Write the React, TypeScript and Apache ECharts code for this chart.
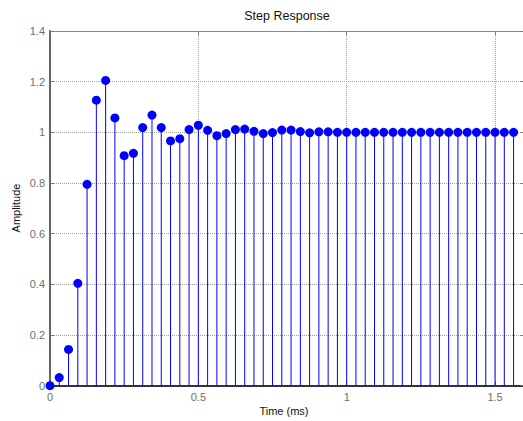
import React, { useEffect, useRef } from "react";
import * as echarts from "echarts";

// Sample period of the discrete step response (ms)
const samplePeriod = 0.03125;
// Amplitude at each sample n = 0..50
const amplitudes = [
  0, 0.032, 0.143, 0.404, 0.795, 1.127, 1.205, 1.057, 0.908, 0.917,
  1.019, 1.068, 1.019, 0.966, 0.975, 1.011, 1.028, 1.008, 0.987, 0.995,
  1.011, 1.013, 1.004, 0.995, 0.999, 1.009, 1.009, 1.003, 0.998, 1.002,
  1.002, 1.0, 1.0, 1.0, 1.0, 1.0, 1.0, 1.0, 1.0, 1.0,
  1.0, 1.0, 1.0, 1.0, 1.0, 1.0, 1.0, 1.0, 1.0, 1.0,
  1.0,
];
const xTicks = [0, 0.5, 1, 1.5];
const yTicks = [0, 0.2, 0.4, 0.6, 0.8, 1, 1.2, 1.4];
const titleText = "Step Response";
const xLabel = "Time (ms)";
const yLabel = "Amplitude";

export default function App() {
  const ref = useRef<HTMLDivElement>(null);
  useEffect(() => {
    if (!ref.current) return;
    const chart = echarts.init(ref.current, null, { renderer: "svg" });
    const points = amplitudes.map((a, i) => [i * samplePeriod, a]);
    const font = "Liberation Sans, Arial, sans-serif";
    const gridLine = { show: true, lineStyle: { color: "#a0a0a0", type: "dotted" as const, width: 1 } };
    chart.setOption({
      animation: false,
      backgroundColor: "#ffffff",
      grid: {
        left: 50,
        top: 31,
        width: 474.7,
        height: 354.7,
        containLabel: false,
        outerBoundsMode: "none",
      },
      xAxis: [
        {
          type: "value",
          min: 0,
          max: 1.6,
          interval: 0.5,
          position: "bottom",
          axisLine: { show: true, onZero: false, lineStyle: { color: "#333333", width: 2 } },
          axisTick: { show: true, inside: true, length: 4, lineStyle: { color: "#666" } },
          axisLabel: {
            color: "#6e6e6e",
            fontSize: 11,
            fontFamily: font,
            margin: 6,
            formatter: (v: number) => (xTicks.includes(v) ? String(v) : ""),
          },
          splitLine: gridLine,
        },
        {
          type: "value",
          min: 0,
          max: 1.6,
          interval: 0.5,
          position: "top",
          axisLine: { show: true, onZero: false, lineStyle: { color: "#8a8a8a", width: 1 } },
          axisTick: { show: true, inside: true, length: 4, lineStyle: { color: "#777" } },
          axisLabel: { show: false },
          splitLine: { show: false },
        },
      ],
      yAxis: [
        {
          type: "value",
          min: 0,
          max: 1.4,
          interval: 0.2,
          axisLine: { show: true, onZero: false, lineStyle: { color: "#666666", width: 2 } },
          axisTick: { show: true, inside: true, length: 4, lineStyle: { color: "#777" } },
          axisLabel: {
            color: "#6e6e6e",
            fontSize: 11,
            fontFamily: font,
            margin: 5,
            formatter: (v: number) => {
              const t = yTicks.find((y) => Math.abs(y - v) < 1e-6);
              return t === undefined ? "" : String(t);
            },
          },
          splitLine: gridLine,
        },
        {
          type: "value",
          min: 0,
          max: 1.4,
          interval: 0.2,
          position: "right",
          axisLine: { show: true, onZero: false, lineStyle: { color: "#8a8a8a", width: 1 } },
          axisTick: { show: true, inside: true, length: 4, lineStyle: { color: "#777" } },
          axisLabel: { show: false },
          splitLine: { show: false },
        },
      ],
      graphic: [
        {
          type: "text",
          x: 287,
          y: 16,
          style: { text: titleText, fill: "#111", font: `12.5px ${font}`, textAlign: "center", textVerticalAlign: "middle" },
        },
        {
          type: "text",
          x: 284,
          y: 411,
          style: { text: xLabel, fill: "#111", font: `11px ${font}`, textAlign: "center", textVerticalAlign: "middle" },
        },
        {
          type: "text",
          x: 16,
          y: 208,
          rotation: Math.PI / 2,
          style: { text: yLabel, fill: "#111", font: `11px ${font}`, textAlign: "center", textVerticalAlign: "middle" },
        },
      ],
      series: [
        {
          type: "custom",
          clip: false,
          data: points,
          renderItem: (params: any, api: any) => {
            const x = api.value(0);
            const y = api.value(1);
            const p0 = api.coord([x, 0]);
            const p1 = api.coord([x, y]);
            return {
              type: "line",
              shape: { x1: p0[0], y1: p0[1], x2: p1[0], y2: p1[1] },
              style: { stroke: "#0000ff", lineWidth: 1 },
            };
          },
          z: 3,
        },
        {
          type: "scatter",
          data: points,
          symbol: "circle",
          symbolSize: 9,
          clip: false,
          itemStyle: { color: "#0000ff", opacity: 1 },
          z: 4,
        },
      ],
    });
    return () => chart.dispose();
  }, []);
  return (
    <div
      ref={ref}
      style={{ position: "fixed", left: 0, top: 0, width: 523, height: 421 }}
    />
  );
}
